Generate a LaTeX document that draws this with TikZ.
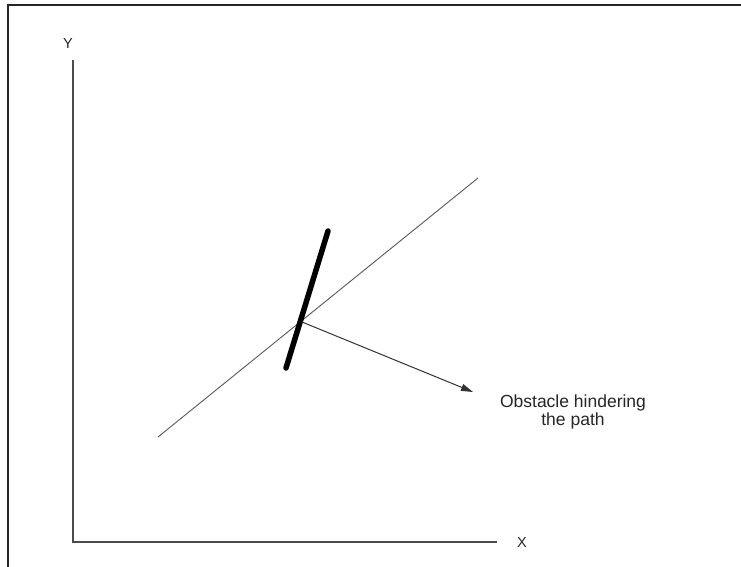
\documentclass[tikz,border=0pt]{standalone}
\usepackage{fontspec}
\setmainfont{Liberation Sans}
\usetikzlibrary{arrows.meta}
\begin{document}
\begin{tikzpicture}[x=1pt,y=-1pt,
  frame/.style={line width=1.4pt,draw=black!85},
  axis/.style={line width=1.3pt,draw=black!70},
  pathline/.style={line width=0.9pt,draw=black!65},
  obstacle/.style={line width=5.5pt,draw=black,line cap=round},
  pointer/.style={line width=1pt,draw=black!80,-{Triangle[length=12pt,width=7pt]}},
  lbl/.style={inner sep=0pt,font=\fontsize{14.5}{16}\selectfont,text=black!85},
  note/.style={inner sep=0pt,align=center,font=\fontsize{17.5}{17.5}\selectfont,text=black!85}]
\useasboundingbox (0,0) rectangle (741,567);
\fill[white] (0,0) rectangle (741,567);
% frame (top and left only)
\coordinate (fTL) at (8,5);
\coordinate (fTR) at (741,5);
\coordinate (fBL) at (8,567);
\draw[frame] (fTR) -- (fTL) -- (fBL);
% axes
\coordinate (ytop) at (73,60);
\coordinate (origin) at (73,542);
\coordinate (xend) at (497,542);
\draw[axis] (ytop) -- (origin) -- (xend);
\node[lbl] (ylab) at (68,44) {Y};
\node[lbl] (xlab) at (522,543) {X};
% path line
\coordinate (pA) at (158,437);
\coordinate (pB) at (478,178);
\draw[pathline] (pA) -- (pB);
% obstacle
\coordinate (oTop) at (328,231);
\coordinate (oBot) at (286,368);
\draw[obstacle] (oTop) -- (oBot);
% pointer
\coordinate (hit) at (302,322);
\coordinate (tip) at (473,392);
\draw[pointer] (hit) -- (tip);
\node[note] (obs) at (573,412) {Obstacle hindering\\the path};
\end{tikzpicture}
\end{document}
